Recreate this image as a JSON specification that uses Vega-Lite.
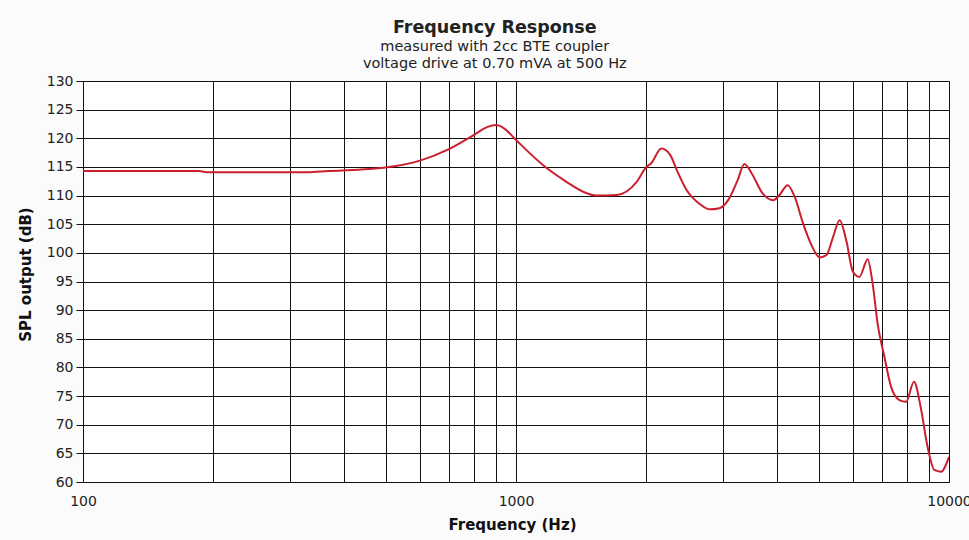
{
  "$schema": "https://vega.github.io/schema/vega-lite/v6.json",
  "width": 866,
  "height": 401,
  "autosize": {"type": "none"},
  "padding": {"left": 83, "top": 81, "right": 20, "bottom": 58},
  "background": "#fbfbfb",
  "title": {
    "text": "Frequency Response",
    "subtitle": ["measured with 2cc BTE coupler", "voltage drive at 0.70 mVA at 500 Hz"],
    "anchor": "middle",
    "frame": "bounds",
    "font": "DejaVu Sans",
    "fontSize": 17.5,
    "fontWeight": "bold",
    "color": "#222222",
    "subtitleFont": "DejaVu Sans",
    "subtitleFontSize": 14.5,
    "subtitleColor": "#222222",
    "subtitleLineHeight": 17,
    "subtitlePadding": 3,
    "offset": 4
  },
  "config": {
    "view": {"stroke": "#aaaaaa", "fill": "white", "strokeWidth": 1},
    "axis": {
      "labelFont": "DejaVu Sans",
      "titleFont": "DejaVu Sans",
      "labelColor": "#222222",
      "titleColor": "#111111",
      "gridColor": "#111111",
      "gridOpacity": 1,
      "gridWidth": 1,
      "domainColor": "#111111",
      "tickColor": "#111111"
    }
  },
  "data": {
    "values": [
      {"f": 100, "db": 114.3},
      {"f": 150, "db": 114.3},
      {"f": 185, "db": 114.3},
      {"f": 195, "db": 114.05},
      {"f": 250, "db": 114.05},
      {"f": 330, "db": 114.05},
      {"f": 370, "db": 114.3},
      {"f": 430, "db": 114.5},
      {"f": 500, "db": 114.9},
      {"f": 600, "db": 116.1},
      {"f": 700, "db": 118.1},
      {"f": 800, "db": 120.6},
      {"f": 860, "db": 122.0},
      {"f": 900, "db": 122.3},
      {"f": 940, "db": 121.7},
      {"f": 1000, "db": 119.7},
      {"f": 1177, "db": 114.8},
      {"f": 1290, "db": 112.7},
      {"f": 1458, "db": 110.4},
      {"f": 1530, "db": 110.0},
      {"f": 1706, "db": 110.1},
      {"f": 1900, "db": 112.4},
      {"f": 2000, "db": 115.0},
      {"f": 2050, "db": 115.6},
      {"f": 2167, "db": 118.2},
      {"f": 2270, "db": 117.1},
      {"f": 2350, "db": 114.5},
      {"f": 2475, "db": 111.0},
      {"f": 2670, "db": 108.4},
      {"f": 2800, "db": 107.6},
      {"f": 2950, "db": 107.8},
      {"f": 3090, "db": 109.2},
      {"f": 3250, "db": 112.7},
      {"f": 3370, "db": 115.5},
      {"f": 3500, "db": 113.9},
      {"f": 3710, "db": 110.4},
      {"f": 3930, "db": 109.2},
      {"f": 4060, "db": 110.1},
      {"f": 4240, "db": 111.8},
      {"f": 4400, "db": 109.8},
      {"f": 4600, "db": 105.2},
      {"f": 4810, "db": 101.4},
      {"f": 5030, "db": 99.2},
      {"f": 5210, "db": 99.6},
      {"f": 5400, "db": 102.8},
      {"f": 5590, "db": 105.7},
      {"f": 5790, "db": 102.2},
      {"f": 6000, "db": 96.7},
      {"f": 6210, "db": 95.8},
      {"f": 6490, "db": 98.9},
      {"f": 6660, "db": 94.7},
      {"f": 6840, "db": 87.7},
      {"f": 7090, "db": 81.9},
      {"f": 7350, "db": 76.6},
      {"f": 7680, "db": 74.3},
      {"f": 7960, "db": 74.0},
      {"f": 8300, "db": 77.5},
      {"f": 8600, "db": 73.1},
      {"f": 8920, "db": 66.2},
      {"f": 9250, "db": 62.1},
      {"f": 9580, "db": 61.8},
      {"f": 10000, "db": 64.4}
    ]
  },
  "mark": {"type": "line", "color": "#cc1f2e", "strokeWidth": 2, "interpolate": "monotone", "clip": true},
  "encoding": {
    "x": {
      "field": "f",
      "type": "quantitative",
      "scale": {"type": "log", "domain": [100, 10000], "nice": false},
      "axis": {
        "title": "Frequency (Hz)",
        "titleFontSize": 15,
        "titleFontWeight": "bold",
        "titlePadding": 9,
        "titleX": 429,
        "values": [100, 200, 300, 400, 500, 600, 700, 800, 900, 1000, 2000, 3000, 4000, 5000, 6000, 7000, 8000, 9000, 10000],
        "labelExpr": "datum.value == 100 || datum.value == 1000 || datum.value == 10000 ? format(datum.value, 'd') : ''",
        "labelFontSize": 14,
        "labelPadding": 12,
        "ticks": false,
        "labelOverlap": false,
        "labelFlush": false
      }
    },
    "y": {
      "field": "db",
      "type": "quantitative",
      "scale": {"domain": [60, 130], "nice": false, "zero": false},
      "axis": {
        "title": "SPL output (dB)",
        "titleFontSize": 15,
        "titleFontWeight": "bold",
        "titlePadding": 13,
        "titleY": 193,
        "values": [60, 65, 70, 75, 80, 85, 90, 95, 100, 105, 110, 115, 120, 125, 130],
        "labelFontSize": 14,
        "labelPadding": 3,
        "tickSize": 7,
        "labelOverlap": false,
        "labelFlush": false
      }
    }
  }
}
